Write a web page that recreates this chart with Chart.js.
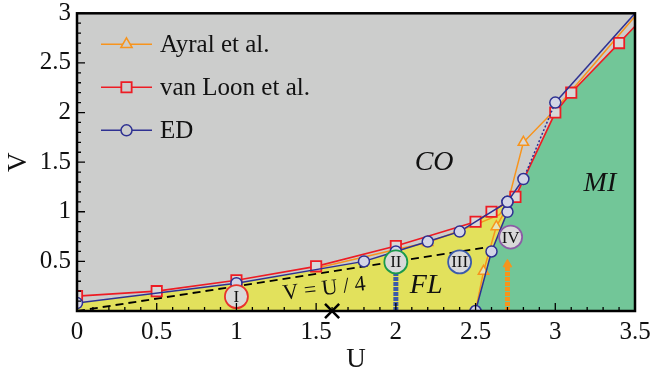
<!DOCTYPE html>
<html lang="en">
<head>
<meta charset="UTF-8">
<title>U-V phase diagram</title>
<script src="https://cdn.jsdelivr.net/npm/chart.js@4.4.1/dist/chart.umd.min.js"></script>
<style>
  html, body { margin: 0; padding: 0; background: #fff; }
</style>
</head>
<body>
<canvas id="phase-chart" width="653" height="379"></canvas>
<script>
// axis ticks
const xTickValues = [0, 0.5, 1, 1.5, 2, 2.5, 3, 3.5];
const xTickLabels = ['0', '0.5', '1', '1.5', '2', '2.5', '3', '3.5'];
const yTickValues = [0, 0.5, 1, 1.5, 2, 2.5, 3];
const yTickLabels = ['', '0.5', '1', '1.5', '2', '2.5', '3'];

// ED (upper boundary + FL/MI boundary)
const edU = [0, 1, 1.8, 2, 2.2, 2.4, 2.7, 2.8, 3.0, 3.5];
const edV = [0.08, 0.28, 0.5, 0.6, 0.7, 0.8, 1.1, 1.33, 2.1, 3.0];
const edLowU = [2.5, 2.6, 2.7, 2.7];
const edLowV = [0, 0.6, 1.0, 1.1];

// van Loon et al.
const loonU = [0, 0.5, 1, 1.5, 2, 2.5, 2.6, 2.75, 3.0, 3.1, 3.4, 3.5];
const loonV = [0.15, 0.2, 0.31, 0.45, 0.655, 0.9, 1.0, 1.15, 2.0, 2.2, 2.7, 2.87];

// Ayral et al.
const ayralU = [1.5, 2.0, 2.2, 2.5, 2.65, 2.7, 2.8, 3.0, 3.5];
const ayralV = [0.43, 0.62, 0.69, 0.87, 0.97, 1.08, 1.7, 2.03, 2.97];
const ayralLowU = [2.5, 2.55, 2.63, 2.7];
const ayralLowV = [0, 0.4, 0.85, 1.05];

// phase regions
const flU = [0, 0, 1, 1.8, 2, 2.2, 2.4, 2.7, 2.7, 2.6, 2.5];
const flV = [0, 0.08, 0.28, 0.5, 0.6, 0.7, 0.8, 1.1, 1.0, 0.6, 0];
const miU = [2.5, 2.6, 2.7, 2.75, 3.0, 3.1, 3.4, 3.5, 3.5];
const miV = [0, 0.6, 1.0, 1.15, 2.0, 2.2, 2.7, 2.87, 0];

// V = U/4 line, vertical markers, cross
const quarterU = [0, 2.58];
const quarterV = [0, 0.645];
const blueColU = [2, 2];
const blueColV = [0, 0.46];
const orangeColU = [2.7, 2.7];
const orangeColV = [0, 0.47];
const crossU = [1.6];
const crossV = [0];

// circled roman numerals
const markText = ['I', 'II', 'III', 'IV'];
const markU = [1, 2, 2.4, 2.72];
const markV = [0.145, 0.495, 0.495, 0.745];
const markColors = ['#e8332c', '#1b9a4b', '#3b5bab', '#8c5ca6'];

// region labels
const regionText = ['CO', 'MI', 'FL'];
const regionU = [2.24, 3.28, 2.19];
const regionV = [1.5, 1.28, 0.26];

const SERIF = '"Liberation Serif", "DejaVu Serif", serif';

function pts(us, vs) {
    return us.map((u, i) => ({ x: u, y: vs[i] }));
}

// plot background (CO region) and frame
const frame = {
    id: 'frame',
    beforeDatasetsDraw(chart) {
        const { ctx, chartArea: a } = chart;
        ctx.save();
        ctx.fillStyle = '#cccdcc';
        ctx.fillRect(a.left, a.top, a.right - a.left, a.bottom - a.top);
        ctx.restore();
    },
    afterDraw(chart) {
        const { ctx, chartArea: a, scales } = chart;
        ctx.save();
        ctx.strokeStyle = '#000';
        // inward ticks, minor every 0.1
        ctx.lineWidth = 1.3;
        ctx.beginPath();
        for (let i = 0; i <= 35; i++) {
            const px = scales.x.getPixelForValue(i / 10);
            const len = i % 5 === 0 ? 8 : 4;
            ctx.moveTo(px, a.bottom);
            ctx.lineTo(px, a.bottom - len);
        }
        for (let i = 0; i <= 30; i++) {
            const py = scales.y.getPixelForValue(i / 10);
            const len = i % 5 === 0 ? 8 : 4;
            ctx.moveTo(a.left, py);
            ctx.lineTo(a.left + len, py);
        }
        ctx.stroke();
        ctx.lineWidth = 2.5;
        ctx.strokeRect(a.left, a.top, a.right - a.left, a.bottom - a.top);
        ctx.restore();
    }
};

// texts inside the plot + legend
const notes = {
    id: 'notes',
    afterDatasetsDraw(chart) {
        const { ctx, scales, chartArea: a } = chart;
        const x = scales.x, y = scales.y;
        ctx.save();
        ctx.fillStyle = '#111';
        ctx.textAlign = 'center';
        ctx.textBaseline = 'middle';

        ctx.font = 'italic 28px ' + SERIF;
        regionText.forEach((t, i) => {
            ctx.fillText(t, x.getPixelForValue(regionU[i]), y.getPixelForValue(regionV[i]));
        });

        // numerals in their circles
        ctx.font = '17px ' + SERIF;
        markText.forEach((t, i) => {
            ctx.fillText(t, x.getPixelForValue(markU[i]), y.getPixelForValue(markV[i]) + 1);
        });

        // V = U / 4, tilted along its line
        const ang = Math.atan2(
            y.getPixelForValue(quarterV[1]) - y.getPixelForValue(quarterV[0]),
            x.getPixelForValue(quarterU[1]) - x.getPixelForValue(quarterU[0]));
        ctx.translate(x.getPixelForValue(1.55), y.getPixelForValue(0.22));
        ctx.rotate(ang * 0.75);
        ctx.font = '22px ' + SERIF;
        ctx.fillText('V = U / 4', 0, 0);
        ctx.restore();

        // legend
        ctx.save();
        const rows = [5, 4, 2];
        rows.forEach((di, r) => {
            const ds = chart.data.datasets[di];
            const cy = a.top + 31 + r * 43;
            const x0 = a.left + 24, x1 = a.left + 75, xm = (x0 + x1) / 2;
            ctx.strokeStyle = ds.borderColor;
            ctx.lineWidth = ds.borderWidth;
            ctx.beginPath();
            ctx.moveTo(x0, cy);
            ctx.lineTo(x1, cy);
            ctx.stroke();
            ctx.fillStyle = '#cccdcc';
            ctx.strokeStyle = ds.borderColor;
            ctx.lineWidth = ds.pointBorderWidth;
            Chart.helpers.drawPoint(ctx, {
                pointStyle: ds.pointStyle,
                radius: ds.legendRadius,
                borderWidth: ds.pointBorderWidth
            }, xm, cy);
            ctx.fillStyle = '#111';
            ctx.font = '25px ' + SERIF;
            ctx.textAlign = 'left';
            ctx.textBaseline = 'middle';
            ctx.fillText(ds.label, a.left + 83, cy + 1);
        });
        ctx.restore();
    }
};

const ORANGE = '#f7941d', RED = '#ed1c24', BLUE = '#2e3192';

new Chart(document.getElementById('phase-chart'), {
    type: 'scatter',
    data: {
        datasets: [
            {   // 0 circled numerals
                label: 'marks',
                data: pts(markU, markV),
                pointStyle: 'circle',
                pointRadius: 11.5,
                pointBorderWidth: 1.8,
                pointBorderColor: markColors,
                pointBackgroundColor: '#d9d9d9',
                clip: false
            },
            {   // 1 cross on the U axis
                label: 'cross',
                data: pts(crossU, crossV),
                pointStyle: 'crossRot',
                pointRadius: 10,
                pointBorderWidth: 2.5,
                pointBorderColor: '#000',
                clip: false
            },
            {   // 2 ED upper
                label: 'ED',
                data: pts(edU, edV),
                showLine: true,
                borderColor: BLUE,
                borderWidth: 1.5,
                pointStyle: 'circle',
                pointRadius: edU.map(u => u === 3.5 ? 0 : 5.5),
                legendRadius: 5.5,
                pointBorderWidth: 1.5,
                pointBorderColor: BLUE,
                pointBackgroundColor: '#d3d5e6',
                segment: { borderDash: c => c.p0.parsed.x === 2.8 ? [2, 2] : undefined },
                clip: 0
            },
            {   // 3 ED lower (FL/MI)
                label: 'ED low',
                data: pts(edLowU, edLowV),
                showLine: true,
                borderColor: BLUE,
                borderWidth: 1.5,
                pointStyle: 'circle',
                pointRadius: 5.5,
                pointBorderWidth: 1.5,
                pointBorderColor: BLUE,
                pointBackgroundColor: '#d3d5e6',
                clip: 0
            },
            {   // 4 van Loon
                label: 'van Loon et al.',
                data: pts(loonU, loonV),
                showLine: true,
                borderColor: RED,
                borderWidth: 1.6,
                pointStyle: 'rect',
                pointRadius: loonU.map(u => u === 3.5 ? 0 : 7.3),
                legendRadius: 7.3,
                pointBorderWidth: 1.8,
                pointBorderColor: RED,
                pointBackgroundColor: '#d8d8d8',
                clip: 0
            },
            {   // 5 Ayral
                label: 'Ayral et al.',
                data: pts(ayralU, ayralV),
                showLine: true,
                borderColor: ORANGE,
                borderWidth: 1.5,
                pointStyle: 'triangle',
                pointRadius: ayralU.map(u => (u === 2.2 || u === 2.8) ? 6 : 0),
                legendRadius: 6.5,
                pointBorderWidth: 1.5,
                pointBorderColor: ORANGE,
                pointBackgroundColor: '#d8d8d8',
                clip: 0
            },
            {   // 6 Ayral lower
                label: 'Ayral low',
                data: pts(ayralLowU, ayralLowV),
                showLine: true,
                borderColor: ORANGE,
                borderWidth: 1.5,
                pointStyle: 'triangle',
                pointRadius: ayralLowU.map(u => (u === 2.55 || u === 2.63) ? 6 : 0),
                pointBorderWidth: 1.5,
                pointBorderColor: ORANGE,
                pointBackgroundColor: '#e6e4b8',
                clip: 0
            },
            {   // 7 V = U/4
                label: 'quarter',
                data: pts(quarterU, quarterV),
                showLine: true,
                borderColor: '#000',
                borderWidth: 1.8,
                borderDash: [8, 5],
                pointRadius: 0
            },
            {   // 8 blue column
                label: 'blue column',
                data: pts(blueColU, blueColV),
                showLine: true,
                borderColor: '#3d5aa8',
                borderWidth: 5,
                borderDash: [4, 1],
                pointRadius: 0,
                clip: 0
            },
            {   // 9 orange column
                label: 'orange column',
                data: pts(orangeColU, orangeColV),
                showLine: true,
                borderColor: ORANGE,
                borderWidth: 5,
                borderDash: [4, 1],
                pointStyle: 'triangle',
                pointRadius: [0, 5],
                pointBorderWidth: 1,
                pointBorderColor: ORANGE,
                pointBackgroundColor: ORANGE,
                clip: 0
            },
            {   // 10 FL region
                label: 'FL',
                data: pts(flU, flV),
                showLine: true,
                borderWidth: 0,
                borderColor: 'rgba(0,0,0,0)',
                backgroundColor: '#e2e15c',
                fill: 'shape',
                pointRadius: 0,
                clip: 0
            },
            {   // 11 MI region
                label: 'MI',
                data: pts(miU, miV),
                showLine: true,
                borderWidth: 0,
                borderColor: 'rgba(0,0,0,0)',
                backgroundColor: '#72c698',
                fill: 'shape',
                pointRadius: 0,
                clip: 0
            }
        ]
    },
    options: {
        responsive: false,
        animation: false,
        layout: { padding: { left: 0, right: 18, top: 12, bottom: 0 } },
        plugins: {
            legend: { display: false },
            tooltip: { enabled: false }
        },
        scales: {
            x: {
                type: 'linear',
                min: 0,
                max: 3.5,
                afterBuildTicks: s => { s.ticks = xTickValues.map(v => ({ value: v })); },
                afterFit: s => { s.height = 68; s.paddingLeft = 0; s.paddingRight = 0; },
                ticks: {
                    callback: (v, i) => xTickLabels[i],
                    color: '#111',
                    font: { family: SERIF, size: 25 },
                    padding: 6,
                    maxRotation: 0,
                    autoSkip: false
                },
                grid: { display: false, drawTicks: false },
                border: { display: false },
                title: {
                    display: true,
                    text: 'U',
                    color: '#111',
                    font: { family: SERIF, size: 27 },
                    padding: { top: 0, bottom: 3 }
                }
            },
            y: {
                type: 'linear',
                min: 0,
                max: 3,
                afterBuildTicks: s => { s.ticks = yTickValues.map(v => ({ value: v })); },
                afterFit: s => { s.width = 77; s.paddingTop = 0; s.paddingBottom = 0; },
                ticks: {
                    callback: (v, i) => yTickLabels[i],
                    color: '#111',
                    font: { family: SERIF, size: 25 },
                    padding: 6,
                    autoSkip: false
                },
                grid: { display: false, drawTicks: false },
                border: { display: false },
                title: {
                    display: true,
                    text: 'V',
                    color: '#111',
                    font: { family: SERIF, size: 27 },
                    padding: { top: 3, bottom: 0 }
                }
            }
        }
    },
    plugins: [frame, notes]
});
</script>
</body>
</html>
